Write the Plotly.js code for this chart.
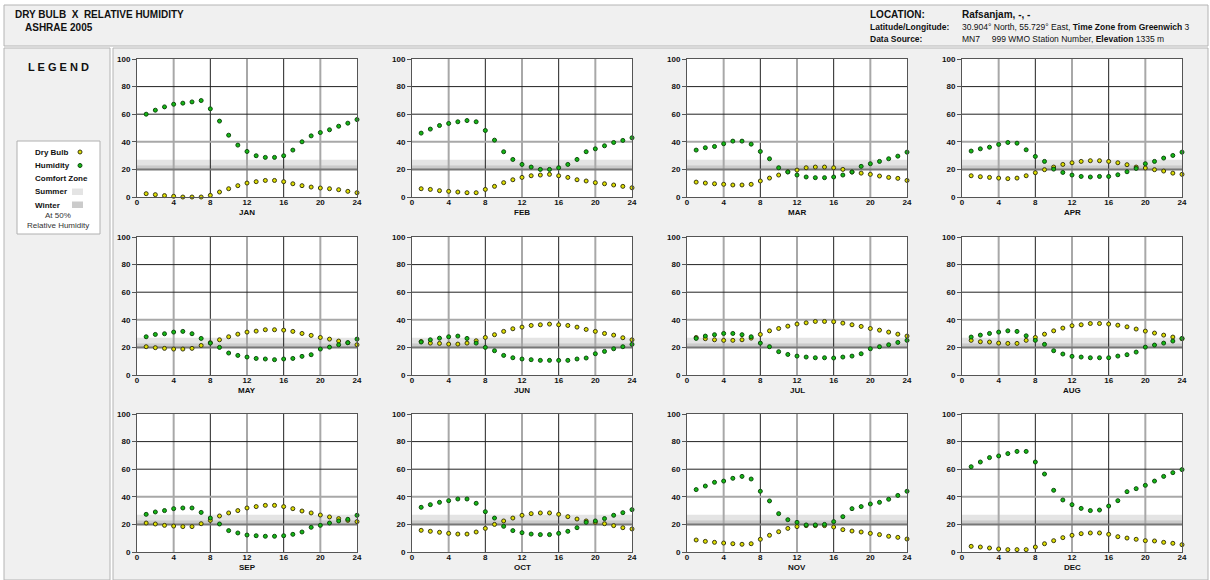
<!DOCTYPE html>
<html><head><meta charset="utf-8">
<script src="https://cdn.plot.ly/plotly-3.0.1.min.js"></script>
<style>html,body{margin:0;padding:0;background:#fff;}#chart{width:1210px;height:580px;}</style>
</head><body><div id="chart"></div>
<script>
const HOURS = [1,2,3,4,5,6,7,8,9,10,11,12,13,14,15,16,17,18,19,20,21,22,23,24];
const MONTHS = ['JAN','FEB','MAR','APR','MAY','JUN','JUL','AUG','SEP','OCT','NOV','DEC'];
const X_TICKS = [0,4,8,12,16,20,24];
const Y_TICKS = [0,20,40,60,80,100];
const SUMMER_ZONE = [23, 27];
const WINTER_ZONE = [20, 23];

const JAN_RH = [60,62.9,65.3,67.2,68,68.9,69.9,63.9,55,44.8,37.6,33,29.9,28.7,28.7,29.9,34,40,44.3,46.7,48.7,51.3,53.5,56.1];
const JAN_DB = [2.4,1.7,1,0.5,0,0,0,1.2,3.6,6,8.2,10.1,11.1,12,12,11.1,9.6,8.2,7.2,6.5,6,5.3,4.1,3.1];
const FEB_RH = [46.3,49.2,51.8,53.3,54.5,55.4,54.5,48.2,41.2,32.8,27.2,23.6,21.7,20,20,21.2,23.6,27.2,32.8,34.9,37.1,39.5,41,42.9];
const FEB_DB = [6,5.5,4.6,4.1,3.6,3.1,3.1,5.5,7.7,10.4,12.5,14.2,15.4,15.9,16.4,15.4,14.2,12.5,11.6,10.4,9.6,8.7,7.7,6.7];
const MAR_RH = [34,35.7,36.6,38.6,40.5,40.5,38.3,33,27.7,21.2,18.1,15.9,14.5,14,14,14.5,15.9,18.1,22.2,24.1,25.8,27.7,29.6,32.5];
const MAR_DB = [10.8,10.1,9.6,9.2,8.7,8.7,9.2,11.6,13.7,15.9,18.3,19.5,21.2,21.7,21.7,21.2,20,18.1,17.3,16.4,15.2,14.2,13.5,12];
const APR_RH = [33.3,34.9,36.1,38.1,39.5,39,34.2,29.4,25.8,20.2,17.8,15.9,14.9,14.5,14.9,14.9,16.1,18.3,20.7,24.1,25.8,28.2,30.1,32.5];
const APR_DB = [15.4,14.7,14.2,13.7,13.3,13.7,15.4,17.6,19.8,21.7,23.6,24.8,25.8,26.3,26.3,25.8,24.8,23.4,21.7,21,19.8,18.8,17.3,16.4];
const MAY_RH = [27.7,29.4,29.9,31.1,31.6,29.9,26.5,23.1,20,15.9,14.2,13,12,11.6,11.1,11.6,12,13.5,14.7,18.8,20.2,21.9,23.4,26];
const MAY_DB = [20.5,19.8,19.3,18.8,18.8,19.3,21.4,23.4,25.5,27.7,29.6,31.1,31.8,32.8,32.8,32.5,31.6,30.1,28.7,27.2,26,24.6,23.4,21.9];
const JUN_RH = [23.9,25.5,26.7,27.7,28.2,26.5,23.1,20,17.6,14.2,12.5,11.6,11.1,10.6,10.6,10.6,10.6,11.6,12.3,15.4,17.1,19,20.5,22.2];
const JUN_DB = [24.3,23.1,22.9,22.4,22.4,23.1,24.8,27.2,29.2,31.6,33.5,34.7,35.9,36.4,36.9,36.4,35.9,34.7,33,31.6,30.1,28.9,27,25.5];
const JUL_RH = [26.5,28.2,29.2,30.1,30.1,29.2,27.7,23.1,20.5,16.9,14.9,13.7,13,12.5,12.5,12.3,13,13.7,15.4,19,20.5,21.9,23.6,25.1];
const JUL_DB = [27.2,26.3,25.5,25.1,25.1,25.5,26.7,29.4,32,33.7,35.4,36.9,37.8,38.8,38.8,38.6,37.6,36.4,35.2,33.7,32.5,31.1,29.6,28.2];
const AUG_RH = [27.5,28.9,30.1,31.1,32,31.6,28.4,25.1,22.2,17.6,15.2,13.5,13,12.5,12.5,12.5,13.7,14.7,16.6,20.2,21.7,23.1,24.6,26.5];
const AUG_DB = [25.1,24.1,23.9,23.1,22.9,22.9,25.1,27.2,29.6,32,34,35.7,36.4,37.3,37.3,36.9,36.1,34.9,33.3,31.8,30.4,28.9,27.5,26.3];
const SEP_RH = [27.3,29,30,31.4,31.9,31.9,28.7,24.6,20.3,15.5,13.8,12.3,11.8,11.4,11.4,11.8,12.8,14.5,17.9,19.3,21,22.5,23.7,26.6];
const SEP_DB = [21,20.3,19.3,18.8,18.4,18.4,20.5,22.9,26.1,28.3,30,31.9,32.9,33.8,33.8,32.9,31.4,29.7,28.3,26.8,25.4,24.2,22.9,22];
const OCT_RH = [32.4,34.3,36,37.2,38.4,38.4,35.3,29.2,24.6,18.6,15.5,14,13,12.6,12.6,13.5,15,17.6,21.5,22.5,24.2,26.6,28.5,30.7];
const OCT_DB = [15.7,15,14.3,13.5,13,13,14.5,17.1,20,22.5,24.6,26.6,27.8,28.3,28.3,27.3,25.6,23.9,22.5,21.5,20.5,19.1,17.6,16.7];
const NOV_RH = [45.2,47.8,50.5,51.4,53.4,54.8,52.9,44,37,27.8,23.4,21.5,19.6,19.6,20,22,25.6,31.4,32.9,34.8,36,38.2,41,44];
const NOV_DB = [8.7,7.7,7,6.5,6,5.6,6,9.2,12.1,14.7,17.1,18.4,19.1,19.1,19.1,18.1,16.2,15.2,14.5,13.5,12.6,11.4,10.6,9.4];
const DEC_RH = [61.8,65.2,68.4,69.6,71.3,72.9,72.9,65.2,56.5,44.7,37.7,34.3,31.6,30,30.4,33.3,37.2,43.7,45.9,48.3,51.4,54.8,57.5,59.7];
const DEC_DB = [4.1,3.6,2.9,2.2,1.7,1.7,1.7,3.6,6,8.2,10.4,12.1,13.3,13.8,13.8,12.8,11.1,10.1,9.2,8.2,8,7,6.3,5.3];

const DRY_BULB = [JAN_DB,FEB_DB,MAR_DB,APR_DB,MAY_DB,JUN_DB,JUL_DB,AUG_DB,SEP_DB,OCT_DB,NOV_DB,DEC_DB];
const HUMIDITY = [JAN_RH,FEB_RH,MAR_RH,APR_RH,MAY_RH,JUN_RH,JUL_RH,AUG_RH,SEP_RH,OCT_RH,NOV_RH,DEC_RH];

const W = 1210, H = 580;
const FONT = 'Liberation Sans, Arial, sans-serif';
const px = x => x / W;
const py = y => 1 - y / H;
const COL_LEFT = [137, 412, 687, 962];
const ROW_TOP = [59, 237, 414];
const PW = 220, PH = 138;
const DB_COLOR = '#dede00', RH_COLOR = '#14b814';
const SUMMER_FILL = '#e4e4e4', WINTER_FILL = '#cbcbcb';

const data = [];
const layout = {
  width: W, height: H,
  margin: {l:0, r:0, t:0, b:0},
  paper_bgcolor: '#ffffff',
  plot_bgcolor: 'rgba(0,0,0,0)',
  showlegend: false,
  font: {family: FONT, color: '#111'},
  shapes: [], annotations: []
};

const box = (x0,y0,x1,y1,fill,line) => ({type:'rect', xref:'paper', yref:'paper', x0:px(x0), x1:px(x1), y0:py(y1), y1:py(y0), fillcolor:fill, line:{color:line, width:1}, layer:'below'});
layout.shapes.push(box(4,5,1208,46,'#f0f0f0','#b4b4b4'));
layout.shapes.push(box(4,48,110,580,'#f0f0f0','#b4b4b4'));
layout.shapes.push(box(113,48,1208,580,'#f0f0f0','#b4b4b4'));
layout.shapes.push(box(17,141,100,234,'#ffffff','#b0b0b0'));

MONTHS.forEach((m, i) => {
  const r = Math.floor(i / 4), c = i % 4;
  const k = i === 0 ? '' : String(i + 1);
  const xa = 'x' + k, ya = 'y' + k;
  const x0 = COL_LEFT[c], y0 = ROW_TOP[r];
  layout['xaxis' + k] = {
    domain: [px(x0), px(x0 + PW)], anchor: ya, range: [0, 24],
    tickvals: X_TICKS, ticks: '', ticklabelstandoff: -3, showgrid: false, zeroline: false,
    showline: true, mirror: true, linecolor: '#555', linewidth: 1,
    tickfont: {family: FONT, size: 8, weight: 700, color: '#111'}, fixedrange: true
  };
  layout['yaxis' + k] = {
    domain: [py(y0 + PH), py(y0)], anchor: xa, range: [0, 100],
    tickvals: Y_TICKS, ticks: 'outside', ticklen: 4, tickcolor: '#555', showgrid: false, zeroline: false,
    showline: true, mirror: true, linecolor: '#555', linewidth: 1,
    tickfont: {family: FONT, size: 8, weight: 700, color: '#111'}, fixedrange: true
  };
  const S = [];
  S.push({type:'rect', xref:xa, yref:ya, x0:0, x1:24, y0:0, y1:100, fillcolor:'#ffffff', line:{width:0}, layer:'below'});
  S.push({type:'rect', xref:xa, yref:ya, x0:0, x1:24, y0:SUMMER_ZONE[0], y1:SUMMER_ZONE[1], fillcolor:SUMMER_FILL, line:{width:0}, layer:'below'});
  S.push({type:'rect', xref:xa, yref:ya, x0:0, x1:24, y0:WINTER_ZONE[0], y1:WINTER_ZONE[1], fillcolor:WINTER_FILL, line:{width:0}, layer:'below'});
  [4,12,20].forEach(v => S.push({type:'line', xref:xa, yref:ya, x0:v, x1:v, y0:0, y1:100, line:{color:'#a8a8a8', width:2}, layer:'below'}));
  [8,16].forEach(v => S.push({type:'line', xref:xa, yref:ya, x0:v, x1:v, y0:0, y1:100, line:{color:'#222', width:1}, layer:'below'}));
  [60,80].forEach(v => S.push({type:'line', xref:xa, yref:ya, x0:0, x1:24, y0:v, y1:v, line:{color:'#222', width:1}, layer:'below'}));
  S.push({type:'line', xref:xa, yref:ya, x0:0, x1:24, y0:40, y1:40, line:{color:'#a8a8a8', width:2}, layer:'below'});
  S.push({type:'line', xref:xa, yref:ya, x0:0, x1:24, y0:20, y1:20, line:{color:'#777', width:2}, layer:'below'});
  layout.shapes.push(...S);

  data.push({x: HOURS, y: DRY_BULB[i], xaxis: xa, yaxis: ya, type: 'scatter', mode: 'markers', cliponaxis: false,
    marker: {size: 4, color: DB_COLOR, line: {color: '#3a3a10', width: 1}}, hoverinfo: 'skip'});
  data.push({x: HOURS, y: HUMIDITY[i], xaxis: xa, yaxis: ya, type: 'scatter', mode: 'markers', cliponaxis: false,
    marker: {size: 4, color: RH_COLOR, line: {color: '#0e4a0e', width: 1}}, hoverinfo: 'skip'});

  layout.annotations.push({xref:'paper', yref:'paper', x:px(x0 + PW/2), y:py(y0 + PH + 15), text:m, showarrow:false,
    xanchor:'center', yanchor:'middle', font:{family:FONT, size:8, weight:700, color:'#111'}});
});

const ann = (x, y, text, size, opts) => Object.assign({xref:'paper', yref:'paper', x:px(x), y:py(y), text:text, showarrow:false,
  xanchor:'left', yanchor:'middle', font:{family:FONT, size:size, color:'#111'}}, opts || {});

layout.annotations.push(ann(13, 15, '<b>DRY BULB  X  RELATIVE HUMIDITY</b>', 10));
layout.annotations.push(ann(23, 28, '<b>ASHRAE 2005</b>', 10));
layout.annotations.push(ann(868, 15, '<b>LOCATION:</b>', 10));
layout.annotations.push(ann(960, 15, '<b>Rafsanjam, -, -</b>', 10));
layout.annotations.push(ann(868, 27, '<b>Latitude/Longitude:</b>', 8.5));
layout.annotations.push(ann(960, 27, '30.904° North, 55.729° East, <b>Time Zone from Greenwich</b> 3', 8.5));
layout.annotations.push(ann(868, 39, '<b>Data Source:</b>', 8.5));
layout.annotations.push(ann(960, 39, 'MN7     999 WMO Station Number, <b>Elevation</b> 1335 m', 8.5));

layout.annotations.push(ann(58, 67, '<b>L E G E N D</b>', 11, {xanchor:'center'}));
layout.annotations.push(ann(33, 152, '<b>Dry Bulb</b>', 8));
layout.annotations.push(ann(33, 165.5, '<b>Humidity</b>', 8));
layout.annotations.push(ann(33, 178.5, '<b>Comfort Zone</b>', 8));
layout.annotations.push(ann(33, 191.5, '<b>Summer</b>', 8));
layout.annotations.push(ann(33, 205, '<b>Winter</b>', 8));
layout.annotations.push(ann(58, 215, 'At 50%', 8, {xanchor:'center', font:{family:FONT, size:8, color:'#333'}}));
layout.annotations.push(ann(58, 225.5, 'Relative Humidity', 8, {xanchor:'center', font:{family:FONT, size:8, color:'#333'}}));
const dot = (cx, cy, fill, line) => ({type:'circle', xref:'paper', yref:'paper', x0:px(cx-2), x1:px(cx+2), y0:py(cy+2), y1:py(cy-2), fillcolor:fill, line:{color:line, width:1}});
layout.shapes.push(dot(80, 152, DB_COLOR, '#3a3a10'));
layout.shapes.push(dot(80, 165.5, RH_COLOR, '#0e4a0e'));
layout.shapes.push({type:'rect', xref:'paper', yref:'paper', x0:px(72), x1:px(83), y0:py(195), y1:py(188.5), fillcolor:SUMMER_FILL, line:{width:0}});
layout.shapes.push({type:'rect', xref:'paper', yref:'paper', x0:px(72), x1:px(83), y0:py(208), y1:py(201.5), fillcolor:WINTER_FILL, line:{width:0}});

Plotly.newPlot('chart', data, layout, {staticPlot: true, displayModeBar: false});
</script>
</body></html>
